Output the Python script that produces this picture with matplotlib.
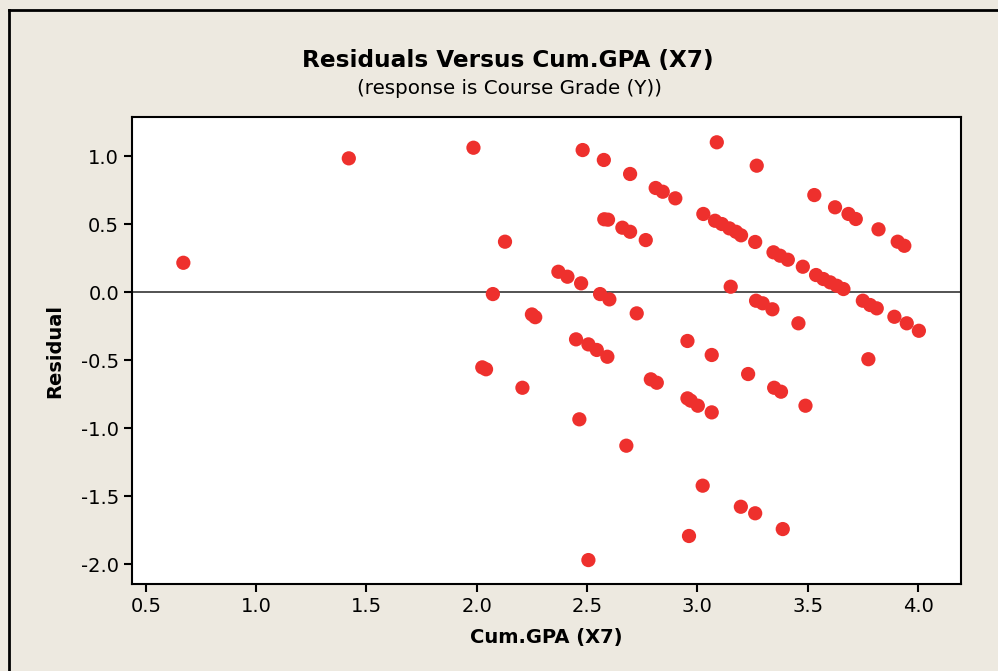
import matplotlib
matplotlib.use("Agg")
import matplotlib.pyplot as plt
from matplotlib.lines import Line2D

cum_gpa = [0.67, 1.42, 1.985, 2.128, 2.073, 2.025, 2.042, 2.207, 2.25, 2.265,
           2.37, 2.411, 2.473, 2.48, 2.576, 2.559, 2.601, 2.578, 2.595, 2.66,
           2.695, 2.766, 2.695, 2.725, 2.811, 2.843, 2.90, 3.088, 3.269, 3.027,
           3.08, 3.111, 3.145, 3.175, 3.198, 3.262, 3.345, 3.375, 3.41, 3.478,
           3.538, 3.571, 3.602, 3.632, 3.662, 3.53, 3.624, 3.685, 3.718, 3.821,
           3.908, 3.938, 3.151, 3.266, 3.296, 3.34, 3.458, 3.75, 3.783, 3.813,
           3.893, 3.949, 4.004, 2.45, 2.506, 2.544, 2.592, 2.955, 3.065, 3.775,
           2.789, 2.816, 3.23, 3.348, 3.379, 2.955, 2.97, 3.002, 3.065, 3.49,
           2.465, 2.678, 3.024, 3.197, 3.262, 3.387, 2.962, 2.506]
residual = [0.215, 0.983, 1.061, 0.37, -0.015, -0.554, -0.568, -0.704, -0.165, -0.185,
            0.149, 0.1125, 0.064, 1.044, 0.971, -0.015, -0.054, 0.535, 0.532, 0.473,
            0.443, 0.382, 0.868, -0.157, 0.765, 0.7375, 0.689, 1.101, 0.929, 0.574,
            0.524, 0.50, 0.468, 0.443, 0.417, 0.368, 0.292, 0.267, 0.2375, 0.186,
            0.125, 0.0956, 0.071, 0.046, 0.022, 0.713, 0.623, 0.574, 0.537, 0.461,
            0.37, 0.34, 0.039, -0.064, -0.083, -0.127, -0.23, -0.064, -0.0956, -0.12,
            -0.182, -0.23, -0.285, -0.348, -0.385, -0.426, -0.476, -0.36, -0.463, -0.494,
            -0.642, -0.667, -0.603, -0.704, -0.733, -0.782, -0.799, -0.836, -0.885, -0.836,
            -0.936, -1.13, -1.424, -1.579, -1.627, -1.743, -1.794, -1.971]

x_ticks = [0.5, 1.0, 1.5, 2.0, 2.5, 3.0, 3.5, 4.0]
x_tick_labels = ["0.5", "1.0", "1.5", "2.0", "2.5", "3.0", "3.5", "4.0"]
y_ticks = [1.0, 0.5, 0.0, -0.5, -1.0, -1.5, -2.0]
y_tick_labels = ["1.0", "0.5", "0.0", "-0.5", "-1.0", "-1.5", "-2.0"]

title = "Residuals Versus Cum.GPA (X7)"
subtitle = "(response is Course Grade (Y))"
x_label = "Cum.GPA (X7)"
y_label = "Residual"

bg = "#ede9e0"
dot = "#ee302d"

plt.rcParams["font.family"] = ["DejaVu Sans"]
fig = plt.figure(figsize=(9.98, 6.71), dpi=100, facecolor=bg)
W, H = 998, 671
ax = fig.add_axes([131.5 / W, 1 - 584 / H, (960.8 - 131.5) / W, (584 - 117) / H])
ax.set_facecolor("white")

ax.axhline(0, color="#444444", lw=1.3, zorder=1)
ax.scatter(cum_gpa, residual, s=105, color=dot, edgecolors="none", zorder=3)

ax.set_xlim(0.435, 4.194)
ax.set_ylim(-2.147, 1.287)
ax.set_xticks(x_ticks)
ax.set_xticklabels(x_tick_labels)
ax.set_yticks(y_ticks)
ax.set_yticklabels(y_tick_labels)
ax.tick_params(direction="out", length=6, width=1.5, labelsize=14, pad=3, colors="black")
for s in ax.spines.values():
    s.set_linewidth(1.5)
    s.set_color("black")

ax.set_xlabel(x_label, fontsize=14, fontweight="bold", labelpad=9)
ax.set_ylabel(y_label, fontsize=14, fontweight="bold", labelpad=12)

fig.text(508 / W, 1 - 60 / H, title, ha="center", va="center", fontsize=16.7, fontweight="bold")
fig.text(510 / W, 1 - 88 / H, subtitle, ha="center", va="center", fontsize=14.3)

# outer frame (left and top edges)
fig.add_artist(Line2D([9 / W, 9 / W], [0, 1 - 9.5 / H], transform=fig.transFigure, color="black", lw=2))
fig.add_artist(Line2D([9 / W, 1], [1 - 9.5 / H, 1 - 9.5 / H], transform=fig.transFigure, color="black", lw=2))

fig.savefig("out.png", dpi=100, facecolor=bg)
